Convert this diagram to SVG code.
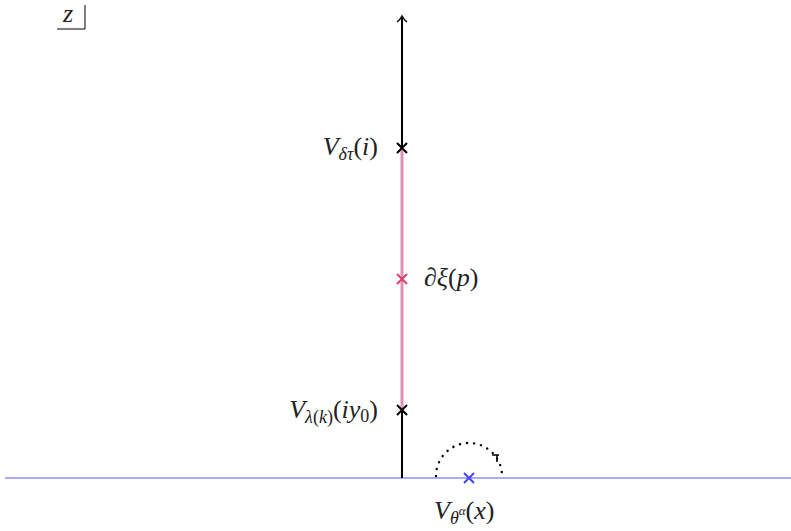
<svg xmlns="http://www.w3.org/2000/svg" width="791" height="531" viewBox="0 0 791 531">
<style>
.t{font-family:"Liberation Serif","DejaVu Serif",serif;font-size:26px;fill:#222}
.i{font-style:italic}
.s{font-size:18px}
.x{stroke-width:2;fill:none}
</style>
<g id="connectors">
<line x1="5" y1="478" x2="791" y2="478" stroke="#aaaaff" stroke-width="2"/>
<line x1="402" y1="478" x2="402" y2="17" stroke="#000" stroke-width="2"/>
<path d="M397,22 Q400,20 402,16 Q404,20 407,22" fill="none" stroke="#000" stroke-width="1.5"/>
<line x1="402" y1="148" x2="402" y2="410" stroke="#e090b0" stroke-width="3"/>
<path d="M436,476 A33,33 0 0 1 502,476" fill="none" stroke="#000" stroke-width="2.4" stroke-dasharray="0.1 7" stroke-linecap="round"/>
<path d="M492,455 H499 M497,455 V462" fill="none" stroke="#000" stroke-width="1.6"/>
</g>
<g id="label-z">
<text x="63" y="22" class="t i">z</text>
<path d="M57,29 H85 V5" fill="none" stroke="#000" stroke-width="1"/>
</g>
<g id="node-delta">
<path d="M397,143 L407,153 M407,143 L397,153" class="x" stroke="#000"/>
<text x="378" y="155" text-anchor="end" class="t"><tspan class="i">V</tspan><tspan class="i s" dy="5">δτ</tspan><tspan dy="-5">(</tspan><tspan class="i">i</tspan>)</text>
</g>
<g id="node-xi">
<path d="M397,274 L407,284 M407,274 L397,284" class="x" stroke="#d9406e"/>
<text x="424" y="286" class="t"><tspan class="i">∂ξ</tspan>(<tspan class="i">p</tspan>)</text>
</g>
<g id="node-lambda">
<path d="M397,405 L407,415 M407,405 L397,415" class="x" stroke="#000"/>
<text x="378" y="418" text-anchor="end" class="t"><tspan class="i">V</tspan><tspan class="s" dy="5"><tspan class="i">λ</tspan>(<tspan class="i">k</tspan>)</tspan><tspan dy="-5">(</tspan><tspan class="i">iy</tspan><tspan class="s" dy="4">0</tspan><tspan dy="-4">)</tspan></text>
</g>
<g id="node-theta">
<path d="M464,473 L474,483 M474,473 L464,483" class="x" stroke="#4444ff"/>
<text x="434" y="519" class="t"><tspan class="i">V</tspan><tspan class="i s" dy="5">θ</tspan><tspan class="i" style="font-size:13px" dy="-9">α</tspan><tspan dy="4">(</tspan><tspan class="i">x</tspan>)</text>
</g>
</svg>
